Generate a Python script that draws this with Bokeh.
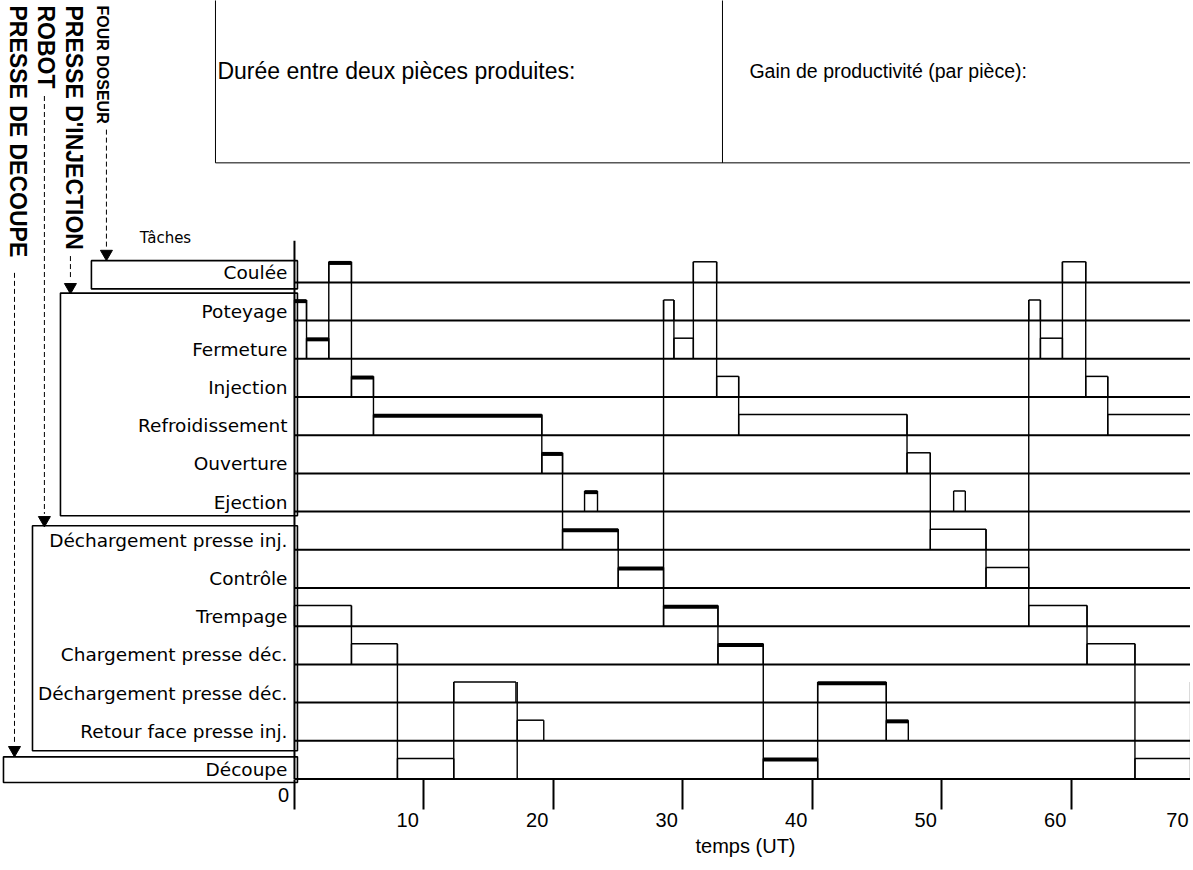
import numpy as np
from bokeh.plotting import figure
from bokeh.models import Range1d, FixedTicker
from bokeh.core.properties import value
from bokeh.embed import file_html
from bokeh.resources import INLINE

# ---------------- data ----------------
tasks = ["Coulée", "Poteyage", "Fermeture", "Injection", "Refroidissement",
         "Ouverture", "Ejection", "Déchargement presse inj.", "Contrôle",
         "Trempage", "Chargement presse déc.", "Déchargement presse déc.",
         "Retour face presse inj.", "Découpe"]

# task occurrences (row index 0 = top row)
occ_row = [0, 0, 0,
           1, 1, 1,
           2, 2, 2,
           3, 3, 3,
           4, 4, 4,
           5, 5,
           6, 6,
           7, 7,
           8, 8,
           9, 9, 9,
           10, 10, 10,
           11, 11, 11,
           12, 12,
           13, 13, 13]
occ_start = [2.65, 30.8, 59.3,
             0.0, 28.5, 56.7,
             0.93, 29.3, 57.6,
             4.4, 32.6, 61.1,
             6.1, 34.3, 62.8,
             19.1, 47.3,
             22.4, 50.9,
             20.7, 49.1,
             25.0, 53.4,
             0.0, 28.5, 56.7,
             4.4, 32.7, 61.2,
             12.3, 40.4, 69.2,
             17.2, 45.7,
             7.95, 36.2, 64.9]
occ_end = [4.4, 32.6, 61.1,
           0.93, 29.3, 57.6,
           2.65, 30.8, 59.3,
           6.1, 34.3, 62.8,
           19.1, 47.3, 72.0,
           20.7, 49.1,
           23.4, 51.8,
           25.0, 53.4,
           28.5, 56.7,
           4.4, 32.7, 61.2,
           7.95, 36.2, 64.9,
           17.1, 45.7, 72.0,
           19.25, 47.4,
           12.3, 40.4, 69.2]
occ_bold = [1, 0, 0,
            1, 0, 0,
            1, 0, 0,
            1, 0, 0,
            1, 0, 0,
            1, 0,
            1, 0,
            1, 0,
            1, 0,
            0, 1, 0,
            0, 1, 0,
            0, 1, 0,
            0, 1,
            0, 1, 0]

# links between successive tasks: time, upper row, lower row
link_t = [0.93, 2.65, 4.4, 6.1, 19.1, 20.7, 25.0, 28.5,
          29.3, 30.8, 32.6, 34.3, 47.3, 49.1, 53.4, 56.7,
          57.6, 59.3, 61.1, 62.8,
          4.4, 7.95, 12.3, 17.2,
          32.7, 36.2, 40.4, 45.7,
          61.2, 64.9, 69.2]
link_up = [1, 0, 0, 3, 4, 5, 7, 1,
           1, 0, 0, 3, 4, 5, 7, 1,
           1, 0, 0, 3,
           9, 10, 11, 11,
           9, 10, 11, 11,
           9, 10, 11]
link_low = [2, 2, 3, 4, 5, 7, 8, 9,
            2, 2, 3, 4, 5, 7, 8, 9,
            2, 2, 3, 4,
            10, 13, 13, 13,
            10, 13, 13, 12,
            10, 13, 13]

x_ticks = [0, 10, 20, 30, 40, 50, 60, 70]
x_tick_labels = ["10", "20", "30", "40", "50", "60", "70"]
t_max = 72.0

groups = ["FOUR DOSEUR", "PRESSE D'INJECTION", "ROBOT", "PRESSE  DE DECOUPE"]
header_left = "Durée entre deux pièces produites:"
header_right = "Gain de productivité (par pièce):"
axis_title = "temps (UT)"

# ---------------- geometry / style ----------------
n = len(tasks)
H = 0.54
X0, X1 = -22.70, 69.19
base = lambda r: (n - 1) - np.asarray(r, dtype=float)

p = figure(width=1190, height=866, x_range=Range1d(X0, X1),
           y_range=Range1d(-2.29, 20.38), output_backend="svg",
           toolbar_location=None, min_border_left=0, min_border_right=0,
           min_border_top=0, min_border_bottom=0, y_axis_location=None)
p.xgrid.visible = False
p.ygrid.visible = False
p.outline_line_color = None

# baselines of each task row
rb = base(range(n))
p.segment(x0=[0.0] * n, y0=rb, x1=[t_max] * n, y1=rb, line_color="black", line_width=2)

# task boxes
r = np.array(occ_row)
s = np.array(occ_start)
e = np.array(occ_end)
b = np.array(occ_bold).astype(bool)
yb = base(r)
yt = yb + H
p.segment(x0=s, y0=yb, x1=s, y1=yt, line_color="black", line_width=1.4)
p.segment(x0=e, y0=yb, x1=e, y1=yt, line_color="black", line_width=1.4)
p.segment(x0=s[~b], y0=yt[~b], x1=e[~b], y1=yt[~b], line_color="black", line_width=1.5)
p.segment(x0=s[b], y0=yt[b] - 0.03, x1=e[b], y1=yt[b] - 0.03, line_color="black", line_width=4)

# links
lt = np.array(link_t)
p.segment(x0=lt, y0=base(link_low), x1=lt, y1=base(link_up) + H,
          line_color="black", line_width=1.4)

# time axis vertical line
p.segment(x0=[0], y0=[0], x1=[0], y1=[14.09], line_color="black", line_width=2)

# row labels
p.text(x=[-0.54] * n, y=rb + 0.25, text=tasks, text_align="right",
       text_baseline="alphabetic", text_font=value("DejaVu Sans"),
       text_font_size="18.5px", text_color="black")

# group boxes
p.quad(left=[-15.68, -18.07, -20.23, -22.47], right=[0.23] * 4,
       bottom=[12.83, 6.89, 0.74, -0.09], top=[13.57, 12.72, 6.63, 0.58],
       fill_color=None, line_color="black", line_width=1.6)

# vertical group names
gx = [-14.83, -17.0, -19.19, -21.35]
gsize = ["16px", "23px", "23px", "23px"]
for gname, x, fs in zip(groups, gx, gsize):
    p.text(x=[x], y=[20.25], text=[gname], angle=-np.pi / 2, text_align="left",
           text_baseline="middle", text_font=value("Liberation Sans"),
           text_font_style="bold", text_font_size=fs, text_color="black")

# dashed leaders and arrows
lx = [-14.52, -17.30, -19.31, -21.62]
p.segment(x0=lx, y0=[17.0, 13.69, 17.88, 13.25],
          x1=lx, y1=[13.90, 13.06, 6.94, 0.92],
          line_color="black", line_width=1, line_dash="5 3")
p.scatter(x=lx, y=[13.75, 12.88, 6.78, 0.76],
          marker="inverted_triangle", size=12, color="black")

p.text(x=[-9.96], y=[14.16], text=["Tâches"], text_align="center",
       text_baseline="middle", text_font=value("DejaVu Sans"),
       text_font_size="15px", text_color="black")

# header box
p.segment(x0=[-6.10, 33.05, -6.10], y0=[16.13, 16.13, 16.13],
          x1=[-6.10, 33.05, t_max], y1=[21.0, 21.0, 16.13],
          line_color="black", line_width=1)
p.text(x=[-5.95], y=[18.54], text=[header_left], text_align="left",
       text_baseline="middle", text_font=value("Liberation Sans"),
       text_font_size="23px", text_color="black")
p.text(x=[35.13], y=[18.54], text=[header_right], text_align="left",
       text_baseline="middle", text_font=value("Liberation Sans"),
       text_font_size="19.5px", text_color="black")

# x axis pinned to the bottom baseline
ax = p.xaxis[0]
ax.fixed_location = 0
ax.ticker = FixedTicker(ticks=x_ticks, minor_ticks=[])
ax.axis_line_color = None
ax.major_tick_out = 30
ax.major_tick_in = 0
ax.major_tick_line_width = 2
ax.minor_tick_out = 0
ax.major_label_text_font_size = "0px"
ax.major_label_text_color = None

# tick labels (set slightly left of their ticks, as in the scan; kept inside the page)
lab_x = np.minimum(np.array(x_ticks[1:], dtype=float) - 0.4, X1 - 0.15)
p.text(x=lab_x, y=[-1.08] * len(x_tick_labels),
       text=x_tick_labels, text_align="right", text_baseline="middle",
       text_font=value("Liberation Sans"), text_font_size="20px", text_color="black")
p.text(x=[-0.85], y=[-0.43], text=["0"], text_align="center", text_baseline="middle",
       text_font=value("Liberation Sans"), text_font_size="20px", text_color="black")
p.text(x=[34.83], y=[-1.76], text=[axis_title], text_align="center",
       text_baseline="middle", text_font=value("Liberation Sans"),
       text_font_size="20px", text_color="black")

open("out.html", "w").write(file_html(p, INLINE))
